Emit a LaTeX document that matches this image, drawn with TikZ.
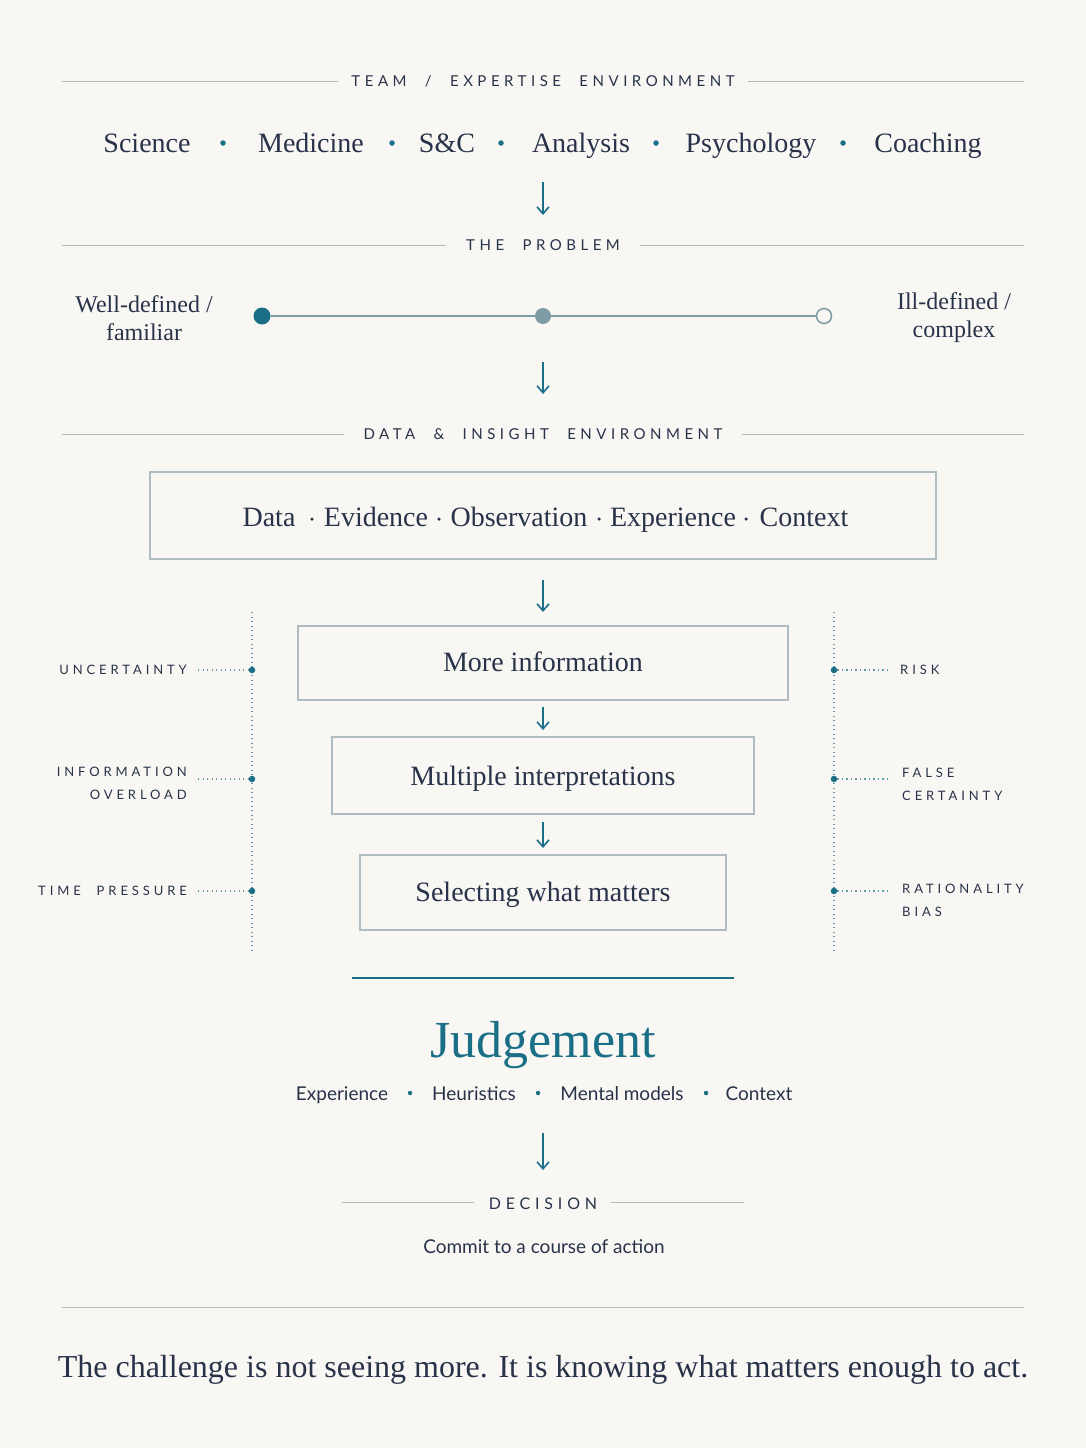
\documentclass[tikz,border=0pt]{standalone}
\usepackage{fontspec}
\usetikzlibrary{arrows.meta}
\setmainfont{Liberation Serif}
\newfontfamily\capsf[LetterSpace=30,WordSpace=2.2]{Lato}
\newfontfamily\sansf{Lato}
\definecolor{bg}{HTML}{F8F7F3}
\definecolor{teal}{HTML}{1A6F86}
\definecolor{ink}{HTML}{283249}
\definecolor{rule}{HTML}{AEBBC1}
\definecolor{mid}{HTML}{7F9BA6}
\begin{document}
\begin{tikzpicture}[x=1pt,y=-1pt,
  ser/.style={text=ink,font=\fontsize{28}{31}\selectfont,inner sep=0pt,anchor=base,yshift=-9pt},
  sub/.style={text=ink,font=\fontsize{24}{28}\selectfont,inner sep=0pt,align=center},
  hcap/.style={text=ink,font=\capsf\fontsize{15}{23}\selectfont,inner sep=0pt},
  sml/.style={text=ink,font=\capsf\fontsize{13}{23}\selectfont,inner sep=0pt},
  sans/.style={text=ink,font=\sansf\fontsize{19}{22}\selectfont,inner sep=0pt,anchor=base,yshift=-7pt},
  hr/.style={draw=rule,line width=1pt},
  dot/.style={circle,fill=teal,inner sep=0pt,minimum size=4.5pt},
  sdot/.style={circle,fill=teal,inner sep=0pt,minimum size=7pt},
  arr/.style={draw=teal,line width=1.6pt,-{Straight Barb[length=7pt,width=12pt]}},
  box/.style={draw=rule,line width=1.2pt,fill=none},
  dl/.style={draw=teal!70,line width=1.3pt,dash pattern=on 1.3pt off 3.2pt}]
\fill[bg] (0,0) rectangle (1086,1448);
\useasboundingbox (0,0) rectangle (1086,1448);
% header 1
\node[hcap] (h1) at (543,81) {TEAM / EXPERTISE ENVIRONMENT};
\coordinate (h1l) at (62,81); \coordinate (h1r) at (1024,81);
\draw[hr] (h1l) -- (338,81); \draw[hr] (748,81) -- (h1r);
\foreach \t/\x/\n in {Science/147/a,Medicine/311/b,S\&C/447/c,Analysis/581/d,Psychology/751/e,Coaching/928/f}
  \node[ser] (\n) at (\x,143) {\t};
\foreach \x/\n in {223/d1,392/d2,501/d3,656/d4,843/d5} \node[sdot,minimum size=5.5pt] (\n) at (\x,143) {};
\coordinate (a1s) at (543,182); \coordinate (a1e) at (543,215);
\draw[arr] (a1s) -- (a1e);
% problem
\node[hcap] (h2) at (543,245) {THE PROBLEM};
\draw[hr] (62,245) -- (446,245); \draw[hr] (640,245) -- (1024,245);
\node[sub] (wd) at (144,318) {Well-defined /\\familiar};
\node[sub] (id) at (954,318) {Ill-defined /\\complex};
\node[circle,fill=teal,inner sep=0pt,minimum size=17pt] (s1) at (262,316) {};
\node[circle,fill=mid,inner sep=0pt,minimum size=16pt] (s2) at (543,316) {};
\node[circle,draw=mid,fill=bg,line width=1.5pt,inner sep=0pt,minimum size=15pt] (s3) at (824,316) {};
\draw[mid,line width=1.6pt] (s1) -- (s2) -- (s3);
\coordinate (a2s) at (543,362); \coordinate (a2e) at (543,394);
\draw[arr] (a2s) -- (a2e);
% data
\node[hcap] (h3) at (543,434) {DATA \& INSIGHT ENVIRONMENT};
\draw[hr] (62,434) -- (344,434); \draw[hr] (742,434) -- (1024,434);
\draw[box] (150,472) rectangle (936,559);
\foreach \t/\x/\n in {Data/269/g,Evidence/376/h,Observation/519/i,Experience/673/j,Context/804/k}
  \node[ser] (\n) at (\x,517) {\t};
\foreach \x/\n in {312/e1,439/e2,599/e3,746/e4} \node[circle,fill=ink,inner sep=0pt,minimum size=3.5pt] (\n) at (\x,519) {};
\coordinate (a3s) at (543,580); \coordinate (a3e) at (543,612);
\draw[arr] (a3s) -- (a3e);
\draw[box] (298,626) rectangle (788,700);
\draw[box] (332,737) rectangle (754,814);
\draw[box] (360,855) rectangle (726,930);
\node[ser] (b1) at (543,662) {More information};
\node[ser] (b2) at (543,776) {Multiple interpretations};
\node[ser] (b3) at (543,892) {Selecting what matters};
\draw[arr] (543,707) -- (543,730);
\draw[arr] (543,822) -- (543,848);
% side rails
\coordinate (lt) at (252,612); \coordinate (lb) at (252,950);
\coordinate (rt) at (834,612); \coordinate (rb) at (834,950);
\draw[dl] (lt) -- (lb); \draw[dl] (rt) -- (rb);
\foreach \y/\n in {670/l1,779/l2,891/l3} {
  \node[dot,minimum size=6.5pt] (\n) at (252,\y) {};
  \draw[dl] (198,\y) -- (\n);}
\foreach \y/\n in {670/r1,779/r2,891/r3} {
  \node[dot,minimum size=6.5pt] (\n) at (834,\y) {};
  \draw[dl] (\n) -- (888,\y);}
\node[sml,anchor=east] (t1) at (187,670) {UNCERTAINTY};
\node[sml,anchor=east,align=right] (t2) at (187,783) {INFORMATION\\OVERLOAD};
\node[sml,anchor=east] (t3) at (187,891) {TIME PRESSURE};
\node[sml,anchor=west] (u1) at (900,670) {RISK};
\node[sml,anchor=west,align=left] (u2) at (902,784) {FALSE\\CERTAINTY};
\node[sml,anchor=west,align=left] (u3) at (902,900) {RATIONALITY\\BIAS};
% judgement
\draw[teal,line width=1.6pt] (352,978) -- (734,978);
\node[text=teal,font=\fontsize{52}{60}\selectfont,inner sep=0pt,anchor=base] (jd) at (543,1057) {Judgement};
\foreach \t/\x/\n in {Experience/342/m,Heuristics/474/n,Mental models/622/o,Context/759/p}
  \node[sans] (\n) at (\x,1093) {\t};
\foreach \x/\n in {410/f1,538/f2,706/f3} \node[dot,minimum size=4.5pt] (\n) at (\x,1093) {};
\coordinate (a4s) at (543,1133); \coordinate (a4e) at (543,1170);
\draw[arr] (a4s) -- (a4e);
\node[hcap,font=\capsf\fontsize{16}{20}\selectfont] (h4) at (543,1204) {DECISION};
\draw[hr] (342,1202) -- (474,1202); \draw[hr] (611,1202) -- (744,1202);
\node[sans] (cm) at (544,1246) {Commit to a course of action};
\draw[hr] (62,1307) -- (1024,1307);
\node[ser,font=\fontsize{32}{40}\selectfont,yshift=-1pt] (q) at (543,1367) {The challenge is not seeing more. It is knowing what matters enough to act.};
\end{tikzpicture}
\end{document}
